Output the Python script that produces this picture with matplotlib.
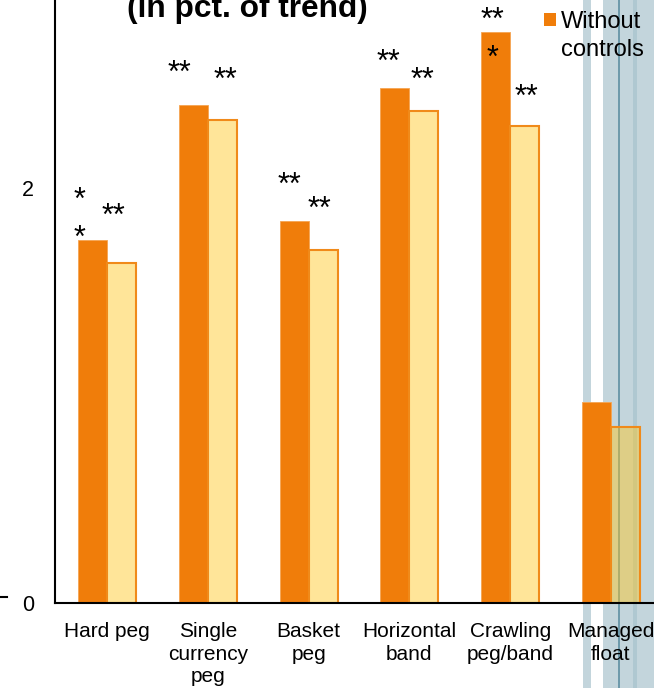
import numpy as np
import matplotlib.pyplot as plt
from matplotlib.patches import Rectangle
from matplotlib.lines import Line2D

plt.rcParams['font.family'] = ['Liberation Sans', 'DejaVu Sans']

# Regime categories and bar heights (in pct. of trend)
regimes = ['Hard peg', 'Single\ncurrency\npeg', 'Basket\npeg',
           'Horizontal\nband', 'Crawling\npeg/band', 'Managed\nfloat']
without_controls = [1.75, 2.40, 1.84, 2.48, 2.75, 0.97]
with_controls = [1.64, 2.33, 1.70, 2.37, 2.30, 0.85]

# Significance stars on top of each bar (wrapped the way the labels wrap)
stars_without = ['*\n*', '**', '**', '**', '**\n*', '']
stars_with = ['**', '**', '**', '**', '**', '']

# offsets (pixels) of the first star line from the top centre of each bar
star_off_without = [(-13, 31), (-14, 23), (-5, 27), (-6, 17), (-3, 3), (0, 0)]
star_off_with = [(-8, 38), (3, 31), (-4, 32), (-1, 22), (2, 20), (0, 0)]
star_step = 38

W, H = 654, 688
fig = plt.figure(figsize=(W / 100, H / 100), dpi=100)
fig.patch.set_facecolor('white')

# translucent blue strips running down the right edge
blue = '#C3D5DC'
for x0, x1, c in [(583, 591, blue), (603, 654, blue), (633, 637, '#AFC8D1'),
                  (618, 620, '#6E9AAB')]:
    fig.add_artist(Rectangle((x0 / W, 0), (x1 - x0) / W, 1, color=c, lw=0,
                             transform=fig.transFigure, zorder=-2))

ax = fig.add_axes([55 / W, 85 / H, (W - 55) / W, 603 / H])
ax.patch.set_visible(False)

orange = '#F07D0A'
light = (1.0, 0.776, 0.114, 0.45)
w = 0.288
x = np.arange(len(regimes))

b1 = ax.bar(x - w / 2, without_controls, width=w, color=orange,
            edgecolor='#F5A552', linewidth=0.6, zorder=3)
b2 = ax.bar(x + w / 2, with_controls, width=w, facecolor=light,
            edgecolor='#F08A1A', linewidth=1.5, zorder=3)

for bars, labels, offs in [(b1, stars_without, star_off_without),
                           (b2, stars_with, star_off_with)]:
    for rect, lab, (dx, dy) in zip(bars, labels, offs):
        for i, line in enumerate(lab.split('\n')):
            if not line:
                continue
            ax.annotate(line, (rect.get_x() + rect.get_width() / 2, rect.get_height()),
                        xytext=(dx, dy - i * star_step), textcoords='offset pixels',
                        ha='center', va='baseline', fontsize=22, zorder=4)

ax.set_xlim(-0.516, 5.427)
ax.set_ylim(0, 2.906)
ax.set_xticks(x)
ax.set_xticklabels(regimes, fontsize=15, linespacing=1.22)
ax.set_yticks([0, 2])
ax.set_yticklabels(['0', '2'], fontsize=15.5)
ax.tick_params(axis='x', length=0, pad=14)
ax.tick_params(axis='y', length=0, pad=15)
for s in ['top', 'right']:
    ax.spines[s].set_visible(False)
for s in ['left', 'bottom']:
    ax.spines[s].set_linewidth(1.5)
    ax.spines[s].set_zorder(5)

fig.text(247.5 / W, (H - 17) / H, '(in pct. of trend)', ha='center',
         va='baseline', fontsize=22.8, fontweight='bold')

# legend entry
fig.add_artist(Rectangle((544 / W, (H - 26) / H), 12 / W, 13 / H, color=orange,
                         lw=0, transform=fig.transFigure))
fig.text(561 / W, (H - 11) / H, 'Without\ncontrols', ha='left', va='top',
         fontsize=17, linespacing=1.33)

# stray tick at the far left
fig.add_artist(Line2D([0, 7 / W], [(H - 597) / H] * 2, color='black', lw=1.5,
                      transform=fig.transFigure))

fig.savefig('out.png', dpi=100)
